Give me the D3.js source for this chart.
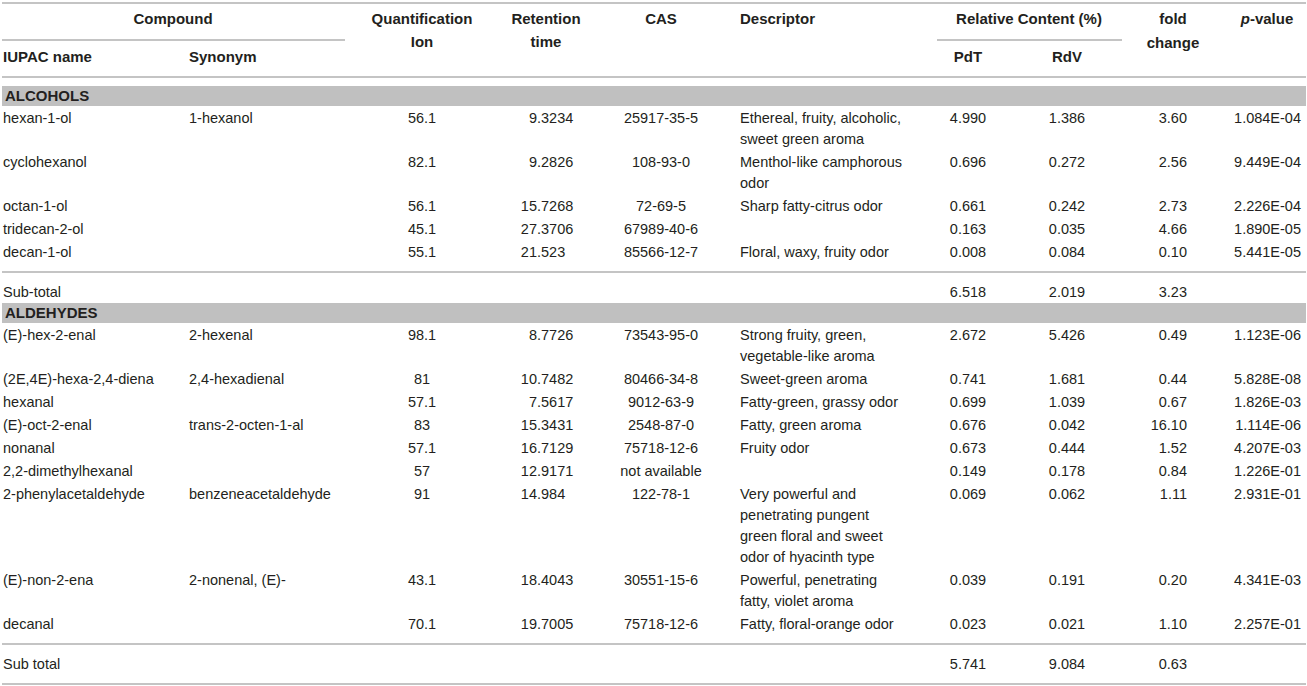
<!DOCTYPE html>
<html>
<head>
<meta charset="utf-8">
<script src="https://cdn.jsdelivr.net/npm/d3@7"></script>
<style>
  body { margin: 0; background: #fff; }
  text { font-family: "Liberation Sans", Arial, sans-serif; }
</style>
</head>
<body>
<div id="container"></div>
<script>
let w = 1307;
let h = 686;

// table content, one array per column
let groupNames = ["ALCOHOLS", "ALDEHYDES"];
let group = [0, 0, 0, 0, 0, 1, 1, 1, 1, 1, 1, 1, 1, 1];
let iupac = ["hexan-1-ol", "cyclohexanol", "octan-1-ol", "tridecan-2-ol", "decan-1-ol",
  "(E)-hex-2-enal", "(2E,4E)-hexa-2,4-diena", "hexanal", "(E)-oct-2-enal", "nonanal",
  "2,2-dimethylhexanal", "2-phenylacetaldehyde", "(E)-non-2-ena", "decanal"];
let synonym = ["1-hexanol", "", "", "", "",
  "2-hexenal", "2,4-hexadienal", "", "trans-2-octen-1-al", "",
  "", "benzeneacetaldehyde", "2-nonenal, (E)-", ""];
let quantIon = [56.1, 82.1, 56.1, 45.1, 55.1, 98.1, 81, 57.1, 83, 57.1, 57, 91, 43.1, 70.1];
let retention = ["9.3234", "9.2826", "15.7268", "27.3706", "21.523",
  "8.7726", "10.7482", "7.5617", "15.3431", "16.7129", "12.9171", "14.984", "18.4043", "19.7005"];
let cas = ["25917-35-5", "108-93-0", "72-69-5", "67989-40-6", "85566-12-7",
  "73543-95-0", "80466-34-8", "9012-63-9", "2548-87-0", "75718-12-6",
  "not available", "122-78-1", "30551-15-6", "75718-12-6"];
let descriptor = ["Ethereal, fruity, alcoholic,\nsweet green aroma", "Menthol-like camphorous\nodor",
  "Sharp fatty-citrus odor", "", "Floral, waxy, fruity odor",
  "Strong fruity, green,\nvegetable-like aroma", "Sweet-green aroma", "Fatty-green, grassy odor",
  "Fatty, green aroma", "Fruity odor", "",
  "Very powerful and\npenetrating pungent\ngreen floral and sweet\nodor of hyacinth type",
  "Powerful, penetrating\nfatty, violet aroma", "Fatty, floral-orange odor"];
let pdt = [4.990, 0.696, 0.661, 0.163, 0.008, 2.672, 0.741, 0.699, 0.676, 0.673, 0.149, 0.069, 0.039, 0.023];
let rdv = [1.386, 0.272, 0.242, 0.035, 0.084, 5.426, 1.681, 1.039, 0.042, 0.444, 0.178, 0.062, 0.191, 0.021];
let fold = [3.60, 2.56, 2.73, 4.66, 0.10, 0.49, 0.44, 0.67, 16.10, 1.52, 0.84, 1.11, 0.20, 1.10];
let pvalue = [1.084e-4, 9.449e-4, 2.226e-4, 1.890e-5, 5.441e-5,
  1.123e-6, 5.828e-8, 1.826e-3, 1.114e-6, 4.207e-3, 1.226e-1, 2.931e-1, 4.341e-3, 2.257e-1];

let subLabel = ["Sub-total", "Sub total"];
let subPdt = [6.518, 5.741];
let subRdv = [2.019, 9.084];
let subFold = [3.23, 0.63];

// column positions
let col = {
  iupac: 3, synonym: 189, quant: 422, retDot: 537, cas: 661, desc: 740,
  pdt: 968, rdv: 1067, fold: 1187, pval: 1301
};
let ruleColor = "#c4c4c4";
let bandColor = "#c0c0c0";
let ink = "#231f20";

let f3 = d3.format(".3f");
let f2 = d3.format(".2f");
function fmtP(v) {
  let s = v.toExponential(3).split("e");
  let e = +s[1];
  return s[0] + "E" + (e < 0 ? "-" : "+") + d3.format("02d")(Math.abs(e));
}

// vertical layout in line units
let lineH = 21, rowPad = 2;
let yLine = d3.scaleLinear().domain([0, 1]).range([0, lineH]);

let viz = d3.select('#container')
  .append('svg')
    .attr('width', w)
    .attr('height', h)
    .style('background-color', 'white')
;

function rule(y, x1, x2) {
  viz.append("line")
    .attr("x1", x1).attr("x2", x2)
    .attr("y1", y).attr("y2", y)
    .attr("stroke", ruleColor)
    .attr("stroke-width", 2);
}

function txt(x, y, s, anchor, bold) {
  return viz.append("text")
    .attr("x", x)
    .attr("y", y)
    .attr("dy", "0.35em")
    .attr("text-anchor", anchor || "start")
    .attr("font-size", bold ? "15px" : "14.5px")
    .attr("font-weight", bold ? "bold" : "normal")
    .attr("fill", ink)
    .text(s);
}

// header
rule(3, 2, 1306);
rule(40, 2, 345);
rule(40, 937, 1122);
rule(77, 2, 1306);

txt(173, 19, "Compound", "middle", true);
txt(col.iupac, 57, "IUPAC name", "start", true);
txt(col.synonym, 57, "Synonym", "start", true);
txt(col.quant, 19, "Quantification", "middle", true);
txt(col.quant, 42, "Ion", "middle", true);
txt(546, 19, "Retention", "middle", true);
txt(546, 42, "time", "middle", true);
txt(col.cas, 19, "CAS", "middle", true);
txt(col.desc, 19, "Descriptor", "start", true);
txt(1029, 19, "Relative Content (%)", "middle", true);
txt(col.pdt, 57, "PdT", "middle", true);
txt(col.rdv, 57, "RdV", "middle", true);
txt(1173, 19, "fold", "middle", true);
txt(1173, 43, "change", "middle", true);
let pv = txt(1267, 19, "", "middle", true);
pv.append("tspan").attr("font-style", "italic").text("p");
pv.append("tspan").text("-value");

// body
let y = 96;
groupNames.forEach(function(name, g) {
  viz.append("rect")
    .attr("x", 2).attr("y", y - 10)
    .attr("width", 1304).attr("height", 20)
    .attr("fill", bandColor);
  txt(5, y, name, "start", true);
  y += 22;

  let rows = d3.range(iupac.length).filter(function(i) { return group[i] == g; });
  rows.forEach(function(i) {
    let lines = descriptor[i] ? descriptor[i].split("\n") : [""];
    txt(col.iupac, y, iupac[i]);
    txt(col.synonym, y, synonym[i]);
    txt(col.quant, y, String(quantIon[i]), "middle");
    let parts = retention[i].split(".");
    txt(col.retDot, y, parts[0], "end");
    txt(col.retDot, y, "." + parts[1], "start");
    txt(col.cas, y, cas[i], "middle");
    lines.forEach(function(l, k) {
      txt(col.desc, y + yLine(k), l);
    });
    txt(col.pdt, y, f3(pdt[i]), "middle");
    txt(col.rdv, y, f3(rdv[i]), "middle");
    txt(col.fold, y, f2(fold[i]), "end");
    txt(col.pval, y, fmtP(pvalue[i]), "end");
    y += yLine(lines.length) + rowPad;
  });

  y -= 3;
  rule(y, 2, 1306);
  y += 20;
  txt(col.iupac, y, subLabel[g]);
  txt(col.pdt, y, f3(subPdt[g]), "middle");
  txt(col.rdv, y, f3(subRdv[g]), "middle");
  txt(col.fold, y, f2(subFold[g]), "end");
  y += 21;
});

rule(y - 1, 2, 1306);
</script>
</body>
</html>
